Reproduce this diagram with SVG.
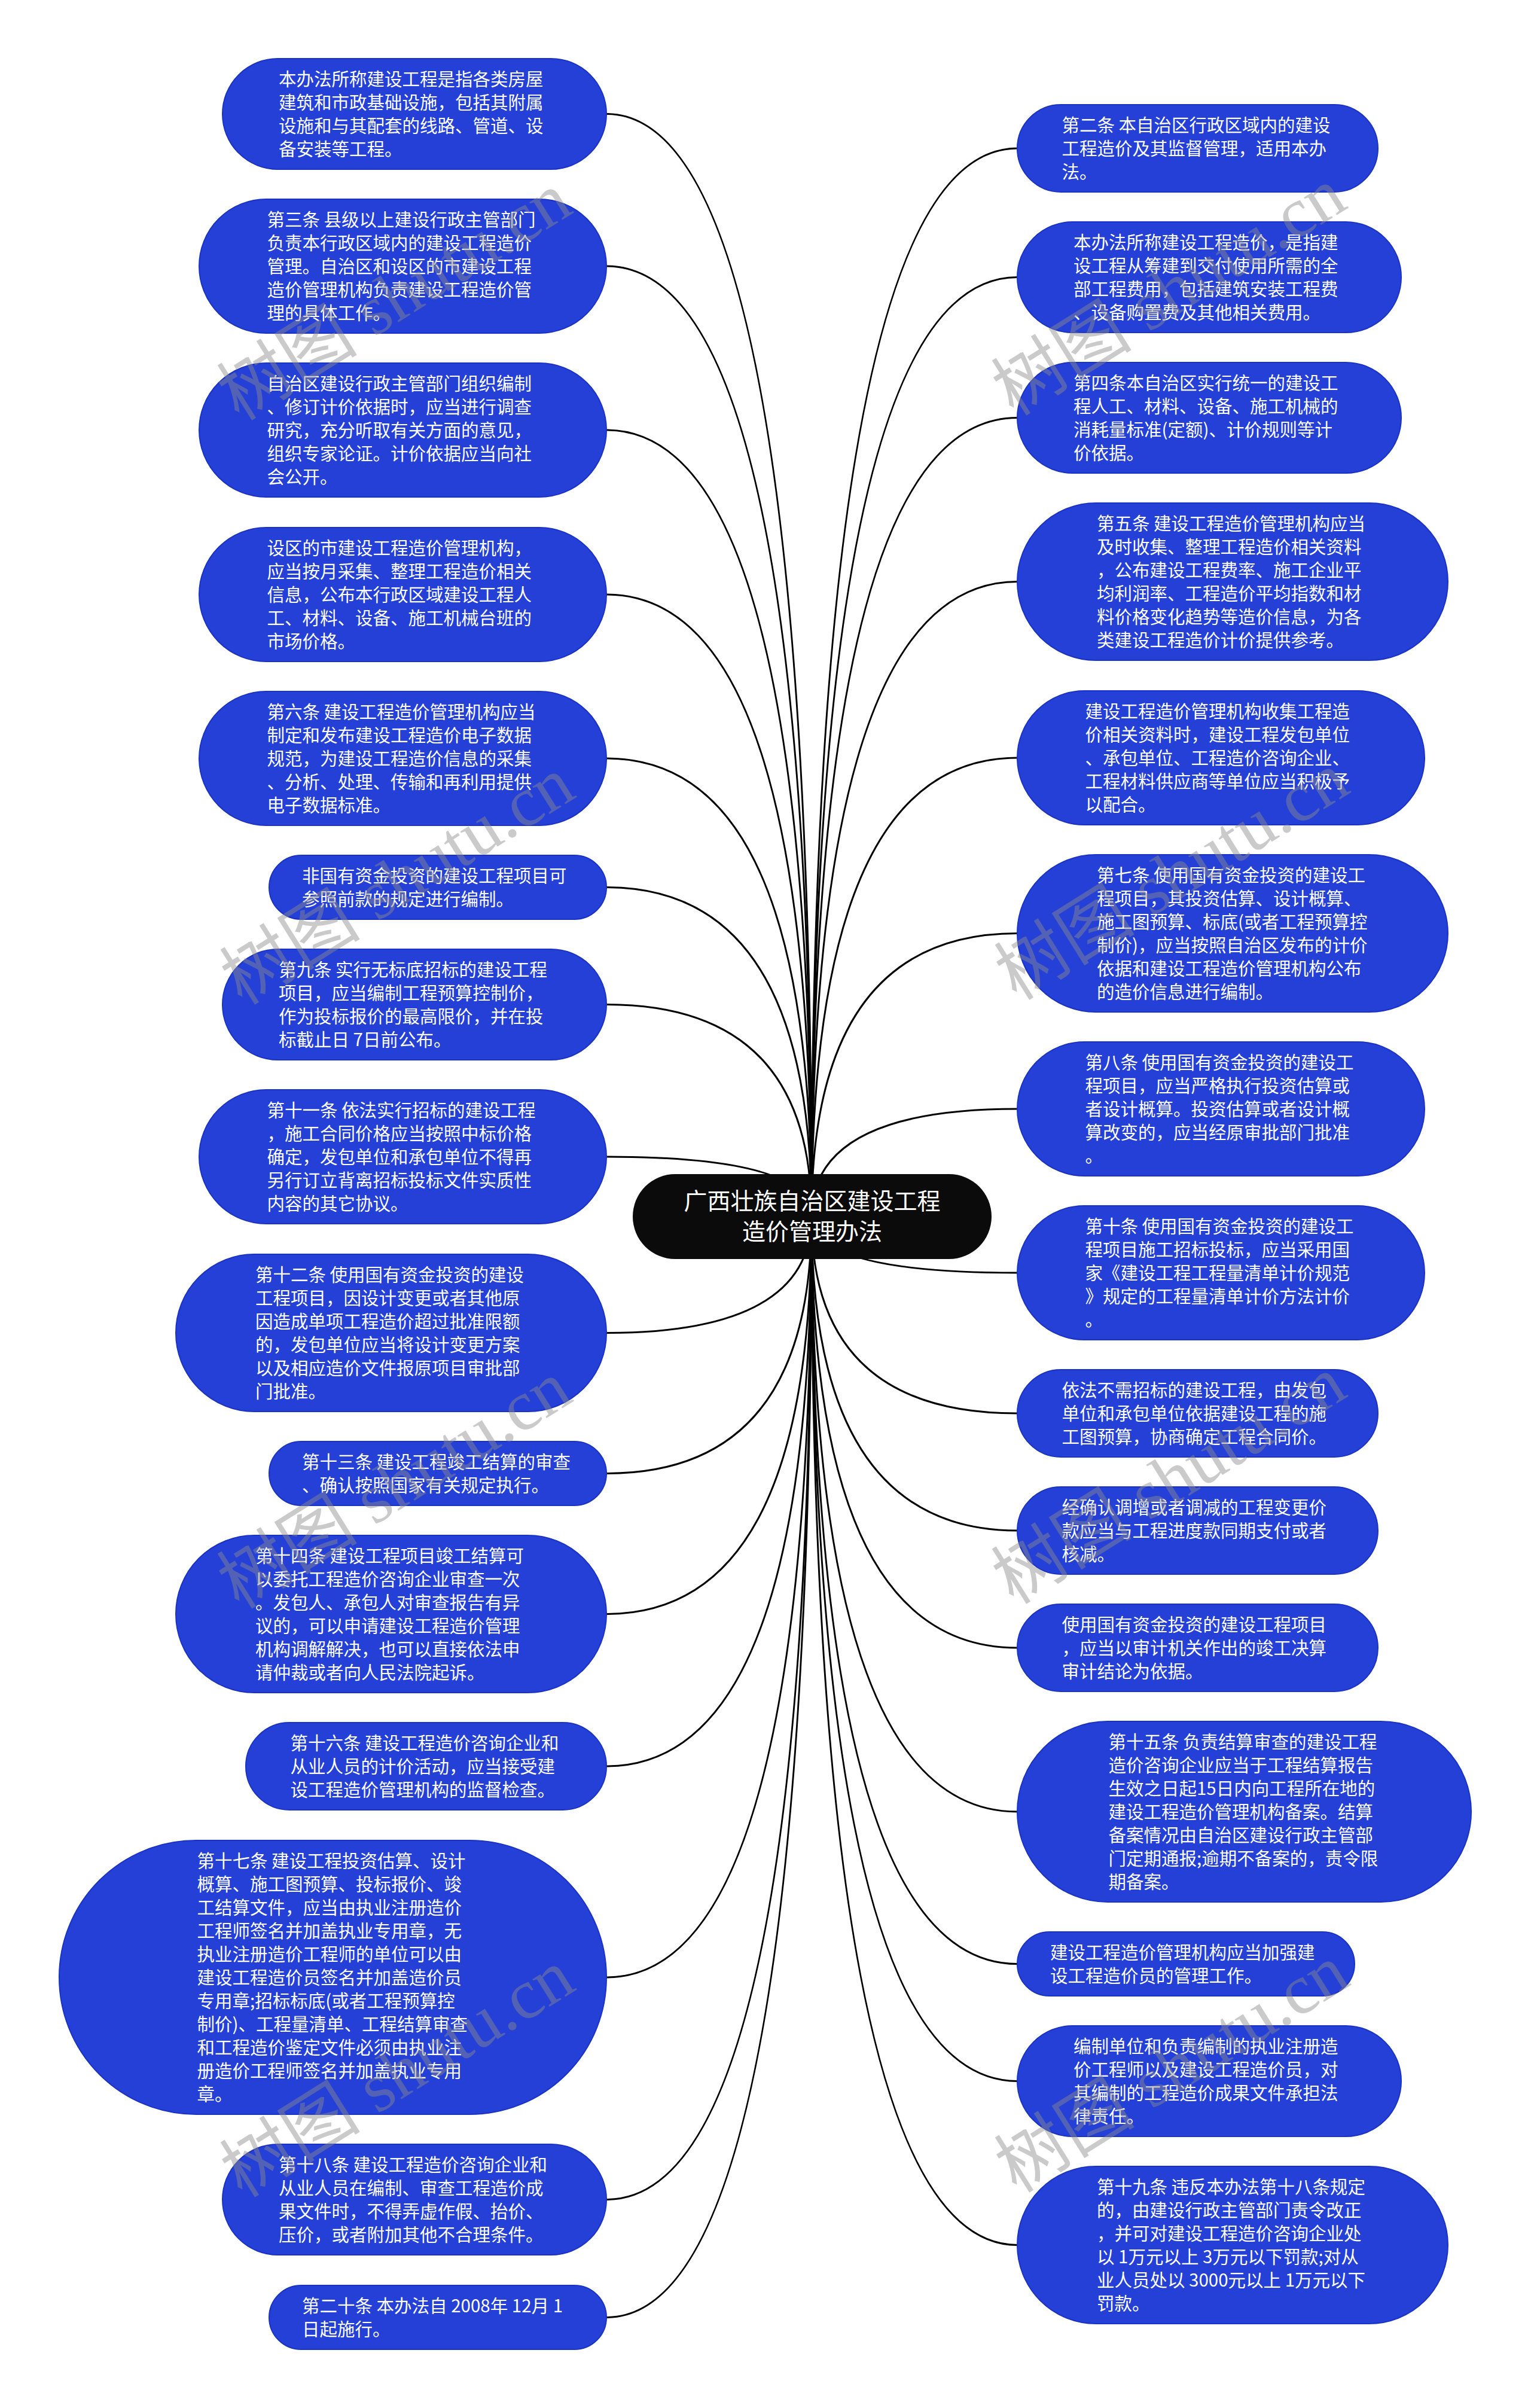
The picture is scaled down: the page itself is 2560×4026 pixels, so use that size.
<svg xmlns="http://www.w3.org/2000/svg" width="2560" height="4026" viewBox="0 0 2560 4026">
<style>
.n{fill:#2540d6;stroke:#1b33c4;stroke-width:2}
.t{font-family:"Noto Sans CJK SC","Microsoft YaHei",sans-serif;font-size:29.5px;fill:#fff}
.c{fill:none;stroke:#000;stroke-width:3}
.cn{fill:#0b0b0b}
.ctt{font-family:"Noto Sans CJK SC","Microsoft YaHei",sans-serif;font-size:39px;fill:#fff;text-anchor:middle}
.wm{font-family:"Liberation Serif","Noto Sans CJK SC",serif;font-size:118px;fill:#8c8c8c;opacity:0.45}
</style>
<rect width="2560" height="4026" fill="#fff"/>
<g id="connectors">
<path class="c" d="M1357 2034 Q1357 190.5 1014 190.5"/>
<path class="c" d="M1357 2034 Q1357 445 1014 445"/>
<path class="c" d="M1357 2034 Q1357 719 1014 719"/>
<path class="c" d="M1357 2034 Q1357 994 1014 994"/>
<path class="c" d="M1357 2034 Q1357 1268 1014 1268"/>
<path class="c" d="M1357 2034 Q1357 1483.5 1014 1483.5"/>
<path class="c" d="M1357 2034 Q1357 1679.5 1014 1679.5"/>
<path class="c" d="M1357 2034 Q1357 1934 1014 1934"/>
<path class="c" d="M1357 2034 Q1357 2228.5 1014 2228.5"/>
<path class="c" d="M1357 2034 Q1357 2463.5 1014 2463.5"/>
<path class="c" d="M1357 2034 Q1357 2698.5 1014 2698.5"/>
<path class="c" d="M1357 2034 Q1357 2953 1014 2953"/>
<path class="c" d="M1357 2034 Q1357 3306 1014 3306"/>
<path class="c" d="M1357 2034 Q1357 3677.5 1014 3677.5"/>
<path class="c" d="M1357 2034 Q1357 3874.5 1014 3874.5"/>
<path class="c" d="M1357 2034 Q1357 248 1701 248"/>
<path class="c" d="M1357 2034 Q1357 463.5 1701 463.5"/>
<path class="c" d="M1357 2034 Q1357 698.5 1701 698.5"/>
<path class="c" d="M1357 2034 Q1357 972.5 1701 972.5"/>
<path class="c" d="M1357 2034 Q1357 1267 1701 1267"/>
<path class="c" d="M1357 2034 Q1357 1560.5 1701 1560.5"/>
<path class="c" d="M1357 2034 Q1357 1854 1701 1854"/>
<path class="c" d="M1357 2034 Q1357 2128 1701 2128"/>
<path class="c" d="M1357 2034 Q1357 2363 1701 2363"/>
<path class="c" d="M1357 2034 Q1357 2559 1701 2559"/>
<path class="c" d="M1357 2034 Q1357 2755 1701 2755"/>
<path class="c" d="M1357 2034 Q1357 3029 1701 3029"/>
<path class="c" d="M1357 2034 Q1357 3283.5 1701 3283.5"/>
<path class="c" d="M1357 2034 Q1357 3479.5 1701 3479.5"/>
<path class="c" d="M1357 2034 Q1357 3753.5 1701 3753.5"/>
</g>
<g id="center">
<rect class="cn" x="1058" y="1963" width="600" height="142" rx="71"/>
<text class="ctt"><tspan x="1358" y="2022">广西壮族自治区建设工程</tspan><tspan x="1358" y="2073">造价管理办法</tspan></text>
</g>
<g id="L1"><rect class="n" x="372" y="98" width="642" height="185" rx="92.5"/>
<text class="t"><tspan x="466" y="143">本办法所称建设工程是指各类房屋</tspan><tspan x="466" y="182">建筑和市政基础设施，包括其附属</tspan><tspan x="466" y="221">设施和与其配套的线路、管道、设</tspan><tspan x="466" y="260">备安装等工程。</tspan></text></g>
<g id="L2"><rect class="n" x="333" y="333" width="681" height="224" rx="112"/>
<text class="t"><tspan x="446.5" y="378">第三条 县级以上建设行政主管部门</tspan><tspan x="446.5" y="417">负责本行政区域内的建设工程造价</tspan><tspan x="446.5" y="456">管理。自治区和设区的市建设工程</tspan><tspan x="446.5" y="495">造价管理机构负责建设工程造价管</tspan><tspan x="446.5" y="534">理的具体工作。</tspan></text></g>
<g id="L3"><rect class="n" x="333" y="607" width="681" height="224" rx="112"/>
<text class="t"><tspan x="446.5" y="652">自治区建设行政主管部门组织编制</tspan><tspan x="446.5" y="691">、修订计价依据时，应当进行调查</tspan><tspan x="446.5" y="730">研究，充分听取有关方面的意见，</tspan><tspan x="446.5" y="769">组织专家论证。计价依据应当向社</tspan><tspan x="446.5" y="808">会公开。</tspan></text></g>
<g id="L4"><rect class="n" x="333" y="882" width="681" height="224" rx="112"/>
<text class="t"><tspan x="446.5" y="927">设区的市建设工程造价管理机构，</tspan><tspan x="446.5" y="966">应当按月采集、整理工程造价相关</tspan><tspan x="446.5" y="1005">信息，公布本行政区域建设工程人</tspan><tspan x="446.5" y="1044">工、材料、设备、施工机械台班的</tspan><tspan x="446.5" y="1083">市场价格。</tspan></text></g>
<g id="L5"><rect class="n" x="333" y="1156" width="681" height="224" rx="112"/>
<text class="t"><tspan x="446.5" y="1201">第六条 建设工程造价管理机构应当</tspan><tspan x="446.5" y="1240">制定和发布建设工程造价电子数据</tspan><tspan x="446.5" y="1279">规范，为建设工程造价信息的采集</tspan><tspan x="446.5" y="1318">、分析、处理、传输和再利用提供</tspan><tspan x="446.5" y="1357">电子数据标准。</tspan></text></g>
<g id="L6"><rect class="n" x="450" y="1430" width="564" height="107" rx="53.5"/>
<text class="t"><tspan x="505" y="1475">非国有资金投资的建设工程项目可</tspan><tspan x="505" y="1514">参照前款的规定进行编制。</tspan></text></g>
<g id="L7"><rect class="n" x="372" y="1587" width="642" height="185" rx="92.5"/>
<text class="t"><tspan x="466" y="1632">第九条 实行无标底招标的建设工程</tspan><tspan x="466" y="1671">项目，应当编制工程预算控制价，</tspan><tspan x="466" y="1710">作为投标报价的最高限价，并在投</tspan><tspan x="466" y="1749">标截止日 7日前公布。</tspan></text></g>
<g id="L8"><rect class="n" x="333" y="1822" width="681" height="224" rx="112"/>
<text class="t"><tspan x="446.5" y="1867">第十一条 依法实行招标的建设工程</tspan><tspan x="446.5" y="1906">，施工合同价格应当按照中标价格</tspan><tspan x="446.5" y="1945">确定，发包单位和承包单位不得再</tspan><tspan x="446.5" y="1984">另行订立背离招标投标文件实质性</tspan><tspan x="446.5" y="2023">内容的其它协议。</tspan></text></g>
<g id="L9"><rect class="n" x="294" y="2097" width="720" height="263" rx="131.5"/>
<text class="t"><tspan x="427" y="2142">第十二条 使用国有资金投资的建设</tspan><tspan x="427" y="2181">工程项目，因设计变更或者其他原</tspan><tspan x="427" y="2220">因造成单项工程造价超过批准限额</tspan><tspan x="427" y="2259">的，发包单位应当将设计变更方案</tspan><tspan x="427" y="2298">以及相应造价文件报原项目审批部</tspan><tspan x="427" y="2337">门批准。</tspan></text></g>
<g id="L10"><rect class="n" x="450" y="2410" width="564" height="107" rx="53.5"/>
<text class="t"><tspan x="505" y="2455">第十三条 建设工程竣工结算的审查</tspan><tspan x="505" y="2494">、确认按照国家有关规定执行。</tspan></text></g>
<g id="L11"><rect class="n" x="294" y="2567" width="720" height="263" rx="131.5"/>
<text class="t"><tspan x="427" y="2612">第十四条 建设工程项目竣工结算可</tspan><tspan x="427" y="2651">以委托工程造价咨询企业审查一次</tspan><tspan x="427" y="2690">。发包人、承包人对审查报告有异</tspan><tspan x="427" y="2729">议的，可以申请建设工程造价管理</tspan><tspan x="427" y="2768">机构调解解决，也可以直接依法申</tspan><tspan x="427" y="2807">请仲裁或者向人民法院起诉。</tspan></text></g>
<g id="L12"><rect class="n" x="411" y="2880" width="603" height="146" rx="73"/>
<text class="t"><tspan x="485.5" y="2925">第十六条 建设工程造价咨询企业和</tspan><tspan x="485.5" y="2964">从业人员的计价活动，应当接受建</tspan><tspan x="485.5" y="3003">设工程造价管理机构的监督检查。</tspan></text></g>
<g id="L13"><rect class="n" x="99" y="3077" width="915" height="458" rx="229"/>
<text class="t"><tspan x="329.5" y="3122">第十七条 建设工程投资估算、设计</tspan><tspan x="329.5" y="3161">概算、施工图预算、投标报价、竣</tspan><tspan x="329.5" y="3200">工结算文件，应当由执业注册造价</tspan><tspan x="329.5" y="3239">工程师签名并加盖执业专用章，无</tspan><tspan x="329.5" y="3278">执业注册造价工程师的单位可以由</tspan><tspan x="329.5" y="3317">建设工程造价员签名并加盖造价员</tspan><tspan x="329.5" y="3356">专用章;招标标底(或者工程预算控</tspan><tspan x="329.5" y="3395">制价)、工程量清单、工程结算审查</tspan><tspan x="329.5" y="3434">和工程造价鉴定文件必须由执业注</tspan><tspan x="329.5" y="3473">册造价工程师签名并加盖执业专用</tspan><tspan x="329.5" y="3512">章。</tspan></text></g>
<g id="L14"><rect class="n" x="372" y="3585" width="642" height="185" rx="92.5"/>
<text class="t"><tspan x="466" y="3630">第十八条 建设工程造价咨询企业和</tspan><tspan x="466" y="3669">从业人员在编制、审查工程造价成</tspan><tspan x="466" y="3708">果文件时，不得弄虚作假、抬价、</tspan><tspan x="466" y="3747">压价，或者附加其他不合理条件。</tspan></text></g>
<g id="L15"><rect class="n" x="450" y="3821" width="564" height="107" rx="53.5"/>
<text class="t"><tspan x="505" y="3866">第二十条 本办法自 2008年 12月 1</tspan><tspan x="505" y="3905">日起施行。</tspan></text></g>
<g id="R1"><rect class="n" x="1701" y="175" width="603" height="146" rx="73"/>
<text class="t"><tspan x="1775.5" y="220">第二条 本自治区行政区域内的建设</tspan><tspan x="1775.5" y="259">工程造价及其监督管理，适用本办</tspan><tspan x="1775.5" y="298">法。</tspan></text></g>
<g id="R2"><rect class="n" x="1701" y="371" width="642" height="185" rx="92.5"/>
<text class="t"><tspan x="1795" y="416">本办法所称建设工程造价，是指建</tspan><tspan x="1795" y="455">设工程从筹建到交付使用所需的全</tspan><tspan x="1795" y="494">部工程费用，包括建筑安装工程费</tspan><tspan x="1795" y="533">、设备购置费及其他相关费用。</tspan></text></g>
<g id="R3"><rect class="n" x="1701" y="606" width="642" height="185" rx="92.5"/>
<text class="t"><tspan x="1795" y="651">第四条本自治区实行统一的建设工</tspan><tspan x="1795" y="690">程人工、材料、设备、施工机械的</tspan><tspan x="1795" y="729">消耗量标准(定额)、计价规则等计</tspan><tspan x="1795" y="768">价依据。</tspan></text></g>
<g id="R4"><rect class="n" x="1701" y="841" width="720" height="263" rx="131.5"/>
<text class="t"><tspan x="1834" y="886">第五条 建设工程造价管理机构应当</tspan><tspan x="1834" y="925">及时收集、整理工程造价相关资料</tspan><tspan x="1834" y="964">，公布建设工程费率、施工企业平</tspan><tspan x="1834" y="1003">均利润率、工程造价平均指数和材</tspan><tspan x="1834" y="1042">料价格变化趋势等造价信息，为各</tspan><tspan x="1834" y="1081">类建设工程造价计价提供参考。</tspan></text></g>
<g id="R5"><rect class="n" x="1701" y="1155" width="681" height="224" rx="112"/>
<text class="t"><tspan x="1814.5" y="1200">建设工程造价管理机构收集工程造</tspan><tspan x="1814.5" y="1239">价相关资料时，建设工程发包单位</tspan><tspan x="1814.5" y="1278">、承包单位、工程造价咨询企业、</tspan><tspan x="1814.5" y="1317">工程材料供应商等单位应当积极予</tspan><tspan x="1814.5" y="1356">以配合。</tspan></text></g>
<g id="R6"><rect class="n" x="1701" y="1429" width="720" height="263" rx="131.5"/>
<text class="t"><tspan x="1834" y="1474">第七条 使用国有资金投资的建设工</tspan><tspan x="1834" y="1513">程项目，其投资估算、设计概算、</tspan><tspan x="1834" y="1552">施工图预算、标底(或者工程预算控</tspan><tspan x="1834" y="1591">制价)，应当按照自治区发布的计价</tspan><tspan x="1834" y="1630">依据和建设工程造价管理机构公布</tspan><tspan x="1834" y="1669">的造价信息进行编制。</tspan></text></g>
<g id="R7"><rect class="n" x="1701" y="1742" width="681" height="224" rx="112"/>
<text class="t"><tspan x="1814.5" y="1787">第八条 使用国有资金投资的建设工</tspan><tspan x="1814.5" y="1826">程项目，应当严格执行投资估算或</tspan><tspan x="1814.5" y="1865">者设计概算。投资估算或者设计概</tspan><tspan x="1814.5" y="1904">算改变的，应当经原审批部门批准</tspan><tspan x="1814.5" y="1943">。</tspan></text></g>
<g id="R8"><rect class="n" x="1701" y="2016" width="681" height="224" rx="112"/>
<text class="t"><tspan x="1814.5" y="2061">第十条 使用国有资金投资的建设工</tspan><tspan x="1814.5" y="2100">程项目施工招标投标，应当采用国</tspan><tspan x="1814.5" y="2139">家《建设工程工程量清单计价规范</tspan><tspan x="1814.5" y="2178">》规定的工程量清单计价方法计价</tspan><tspan x="1814.5" y="2217">。</tspan></text></g>
<g id="R9"><rect class="n" x="1701" y="2290" width="603" height="146" rx="73"/>
<text class="t"><tspan x="1775.5" y="2335">依法不需招标的建设工程，由发包</tspan><tspan x="1775.5" y="2374">单位和承包单位依据建设工程的施</tspan><tspan x="1775.5" y="2413">工图预算，协商确定工程合同价。</tspan></text></g>
<g id="R10"><rect class="n" x="1701" y="2486" width="603" height="146" rx="73"/>
<text class="t"><tspan x="1775.5" y="2531">经确认调增或者调减的工程变更价</tspan><tspan x="1775.5" y="2570">款应当与工程进度款同期支付或者</tspan><tspan x="1775.5" y="2609">核减。</tspan></text></g>
<g id="R11"><rect class="n" x="1701" y="2682" width="603" height="146" rx="73"/>
<text class="t"><tspan x="1775.5" y="2727">使用国有资金投资的建设工程项目</tspan><tspan x="1775.5" y="2766">，应当以审计机关作出的竣工决算</tspan><tspan x="1775.5" y="2805">审计结论为依据。</tspan></text></g>
<g id="R12"><rect class="n" x="1701" y="2878" width="759" height="302" rx="151"/>
<text class="t"><tspan x="1853.5" y="2923">第十五条 负责结算审查的建设工程</tspan><tspan x="1853.5" y="2962">造价咨询企业应当于工程结算报告</tspan><tspan x="1853.5" y="3001">生效之日起15日内向工程所在地的</tspan><tspan x="1853.5" y="3040">建设工程造价管理机构备案。结算</tspan><tspan x="1853.5" y="3079">备案情况由自治区建设行政主管部</tspan><tspan x="1853.5" y="3118">门定期通报;逾期不备案的，责令限</tspan><tspan x="1853.5" y="3157">期备案。</tspan></text></g>
<g id="R13"><rect class="n" x="1701" y="3230" width="564" height="107" rx="53.5"/>
<text class="t"><tspan x="1756" y="3275">建设工程造价管理机构应当加强建</tspan><tspan x="1756" y="3314">设工程造价员的管理工作。</tspan></text></g>
<g id="R14"><rect class="n" x="1701" y="3387" width="642" height="185" rx="92.5"/>
<text class="t"><tspan x="1795" y="3432">编制单位和负责编制的执业注册造</tspan><tspan x="1795" y="3471">价工程师以及建设工程造价员，对</tspan><tspan x="1795" y="3510">其编制的工程造价成果文件承担法</tspan><tspan x="1795" y="3549">律责任。</tspan></text></g>
<g id="R15"><rect class="n" x="1701" y="3622" width="720" height="263" rx="131.5"/>
<text class="t"><tspan x="1834" y="3667">第十九条 违反本办法第十八条规定</tspan><tspan x="1834" y="3706">的，由建设行政主管部门责令改正</tspan><tspan x="1834" y="3745">，并可对建设工程造价咨询企业处</tspan><tspan x="1834" y="3784">以 1万元以上 3万元以下罚款;对从</tspan><tspan x="1834" y="3823">业人员处以 3000元以上 1万元以下</tspan><tspan x="1834" y="3862">罚款。</tspan></text></g>
<g id="watermark">
<text class="wm" x="400" y="705" transform="rotate(-32 400 705)">树图 shutu.cn</text>
<text class="wm" x="405" y="1682" transform="rotate(-32 405 1682)">树图 shutu.cn</text>
<text class="wm" x="400" y="2692" transform="rotate(-32 400 2692)">树图 shutu.cn</text>
<text class="wm" x="405" y="3676" transform="rotate(-32 405 3676)">树图 shutu.cn</text>
<text class="wm" x="1695" y="697" transform="rotate(-32 1695 697)">树图 shutu.cn</text>
<text class="wm" x="1700" y="1674" transform="rotate(-32 1700 1674)">树图 shutu.cn</text>
<text class="wm" x="1695" y="2684" transform="rotate(-32 1695 2684)">树图 shutu.cn</text>
<text class="wm" x="1700" y="3668" transform="rotate(-32 1700 3668)">树图 shutu.cn</text>
</g>
</svg>
